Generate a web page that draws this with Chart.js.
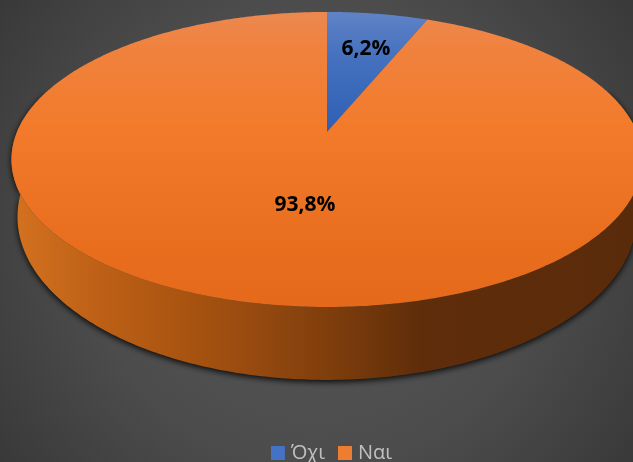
<!DOCTYPE html>
<html>
<head>
<meta charset="utf-8">
<style>
    html, body { margin: 0; padding: 0; background: #444; overflow: hidden; }
    canvas { display: block; }
</style>
<script src="https://cdn.jsdelivr.net/npm/chart.js@4"></script>
</head>
<body>
<canvas id="myChart" width="633" height="462"></canvas>
<script>
const categories = ['Όχι', 'Ναι'];
const shares = [6.2, 93.8];
const legendColors = ['#4472c4', '#ed7d31'];

// tilted disc: apex, half axes and foreshortening of the far side
const disc = { x: 327, y: 132, a: 310, b: 142.4, k: 0.186 };
// lower rim of the side wall
const rim = { drop: 54.6, sx: 0.981, sy: 1.105 };

function project(theta, sx, sy, drop) {
    const X = Math.sin(theta);
    const Y = Math.cos(theta);
    const w = 1 + disc.k * Y;
    return {
        x: disc.x + sx * disc.a * X / w,
        y: disc.y + drop - sy * disc.b * Y / w
    };
}

function verticalGradient(ctx, stops) {
    const g = ctx.createLinearGradient(0, 12, 0, 307);
    stops.forEach(s => g.addColorStop(s[0], s[1]));
    return g;
}

function formatShare(v) {
    return v.toFixed(1).replace('.', ',') + '%';
}

const backdrop = {
    id: 'backdrop',
    beforeDraw(chart) {
        const ctx = chart.ctx;
        const g = ctx.createRadialGradient(316, 231, 0, 316, 231, 400);
        g.addColorStop(0, '#585858');
        g.addColorStop(0.58, '#4c4c4c');
        g.addColorStop(1, '#383838');
        ctx.save();
        ctx.fillStyle = g;
        ctx.fillRect(0, 0, chart.width, chart.height);
        ctx.restore();
    }
};

// the arcs keep the angles the pie controller gave them, only the outline is projected
const pie3d = {
    id: 'pie3d',
    beforeDatasetDraw(chart, args) {
        const ctx = chart.ctx;
        const arcs = args.meta.data;
        const faces = [
            [[0, '#5f83c6'], [0.15, '#4571bf'], [0.4, '#2f60b5'], [1, '#2f60b5']],
            [[0, '#ec8850'], [0.12, '#f0823e'], [0.4, '#f27a2a'], [0.8, '#e86e1e'], [1, '#e5691a']]
        ];

        const wall = ctx.createLinearGradient(11, 0, 633, 0);
        wall.addColorStop(0, '#d4721f');
        wall.addColorStop(0.143, '#bd6016');
        wall.addColorStop(0.3, '#a6520f');
        wall.addColorStop(0.37, '#9a4c10');
        wall.addColorStop(0.51, '#7f3e0c');
        wall.addColorStop(0.66, '#5f2d0a');
        wall.addColorStop(1, '#5a2b0b');

        ctx.save();
        arcs.forEach(arc => {
            const start = arc.startAngle + Math.PI / 2;
            const end = arc.endAngle + Math.PI / 2;
            const steps = Math.ceil((end - start) * 90);
            ctx.beginPath();
            for (let i = 0; i < steps; i++) {
                const t0 = start + (end - start) * i / steps;
                const t1 = start + (end - start) * (i + 1) / steps;
                if (Math.cos(t0) > 0.3) continue;
                const a = project(t0, 1, 1, 0);
                const b = project(t1, 1, 1, 0);
                const c = project(t1, rim.sx, rim.sy, rim.drop);
                const d = project(t0, rim.sx, rim.sy, rim.drop);
                ctx.moveTo(a.x, a.y);
                ctx.lineTo(b.x, b.y);
                ctx.lineTo(c.x, c.y);
                ctx.lineTo(d.x, d.y);
                ctx.closePath();
            }
            ctx.fillStyle = wall;
            ctx.shadowColor = 'rgba(0,0,0,0.9)';
            ctx.shadowBlur = 6;
            ctx.shadowOffsetY = 2;
            ctx.fill();
        });
        ctx.shadowColor = 'transparent';

        arcs.forEach((arc, i) => {
            const start = arc.startAngle + Math.PI / 2;
            const end = arc.endAngle + Math.PI / 2;
            const steps = Math.ceil((end - start) * 90);
            ctx.beginPath();
            ctx.moveTo(disc.x, disc.y);
            for (let s = 0; s <= steps; s++) {
                const p = project(start + (end - start) * s / steps, 1, 1, 0);
                ctx.lineTo(p.x, p.y);
            }
            ctx.closePath();
            ctx.fillStyle = verticalGradient(ctx, faces[i]);
            ctx.fill();
        });
        ctx.restore();
        return false;
    },
    afterDatasetsDraw(chart) {
        const ctx = chart.ctx;
        ctx.save();
        ctx.font = 'bold 21px "Open Sans"';
        ctx.fillStyle = '#000';
        ctx.textAlign = 'center';
        ctx.textBaseline = 'middle';
        ctx.fillText(formatShare(shares[0]), 366, 49);
        ctx.fillText(formatShare(shares[1]), 305, 205);
        ctx.restore();
    }
};

const ctx = document.getElementById('myChart');
const currentChart = new Chart(ctx, {
    type: 'pie',
    data: {
        labels: categories,
        datasets: [{
            data: shares,
            backgroundColor: legendColors,
            borderWidth: 0
        }]
    },
    options: {
        responsive: false,
        animation: false,
        layout: { padding: { left: 34, bottom: -11 } },
        plugins: {
            tooltip: { enabled: false },
            legend: {
                position: 'bottom',
                labels: {
                    // small box plus a thick same-colour stroke keeps the text close to it
                    boxWidth: 6,
                    boxHeight: 6,
                    padding: 17,
                    color: '#c0c0c0',
                    font: { family: '"Open Sans"', size: 20 },
                    generateLabels() {
                        return categories.map((name, i) => ({
                            text: name,
                            fillStyle: legendColors[i],
                            strokeStyle: legendColors[i],
                            fontColor: '#c0c0c0',
                            lineWidth: 8,
                            index: i
                        }));
                    }
                }
            }
        }
    },
    plugins: [backdrop, pie3d]
});
</script>
</body>
</html>
